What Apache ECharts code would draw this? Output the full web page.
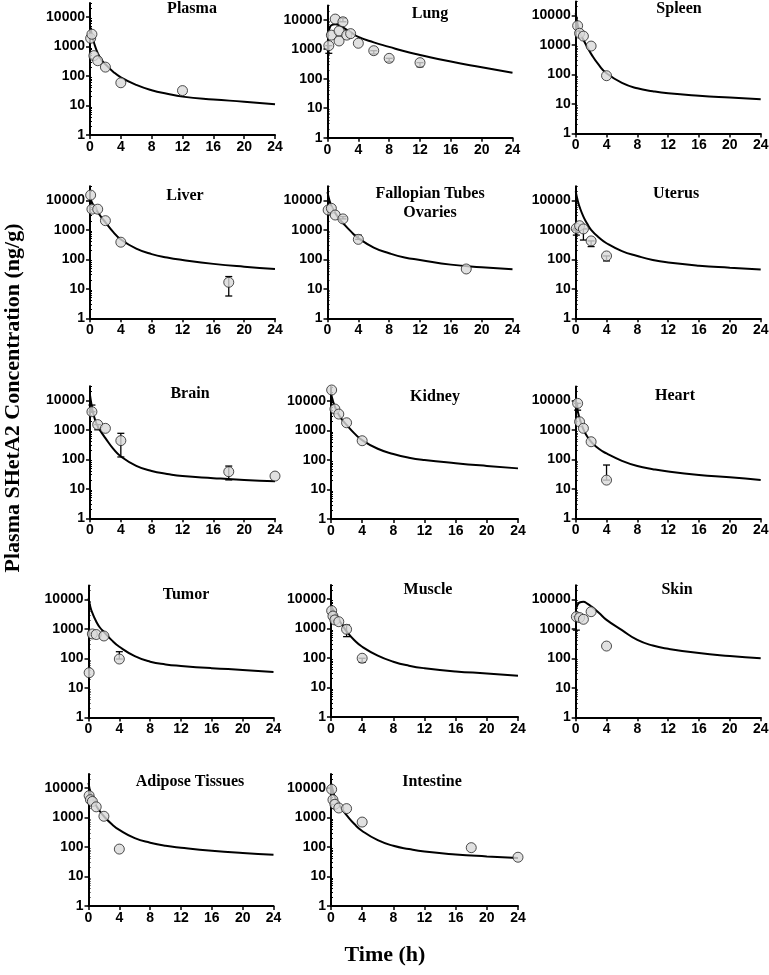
<!DOCTYPE html>
<html><head><meta charset="utf-8">
<script src="https://cdn.jsdelivr.net/npm/echarts@6/dist/echarts.min.js"></script>
<style>html,body{margin:0;padding:0;background:#fff}#c{width:769px;height:975px}</style>
</head><body><div id="c"></div>
<script>
// ---------- DATA ----------
const panelNames = ['Plasma','Lung','Spleen','Liver','Fallopian Tubes\nOvaries','Uterus','Brain','Kidney','Heart','Tumor','Muscle','Skin','Adipose Tissues','Intestine'];
const xTicks = [0,4,8,12,16,20,24];
const yTicks = [1,10,100,1000,10000];
const yMinorTicks = [2,3,4,5,6,7,8,9,20,30,40,50,60,70,80,90,200,300,400,500,600,700,800,900,2000,3000,4000,5000,6000,7000,8000,9000,20000,30000];
const curveTimes = [0,0.25,0.5,1,1.5,2,3,4,6,8,10,12,16,20,24];

const plasmaCurve = [5000,2500,1400,600,350,250,140,90,50,33,25,20,16,13.5,11];
const plasmaT = [0.083,0.25,0.5,1,2,4,12];
const plasmaV = [1900,2600,490,330,200,59,32];
const plasmaErr = [];

const lungCurve = [3000,5000,6500,7000,6500,5500,3800,2600,1700,1200,850,640,380,245,160];
const lungT = [0.17,0.5,1,1.5,1.5,2,2.5,3,4,6,8,12];
const lungV = [1320,3000,10500,1900,4150,8500,3000,3370,1590,890,490,350];
const lungErr = [[0.17,725,1320],[2,8500,11200],[6,690,890],[8,380,490],[12,255,350]];

const spleenCurve = [12000,5000,2800,1500,850,500,210,110,52,34,27,23,19,16.5,14.5];
const spleenT = [0.25,0.5,1,2,4];
const spleenV = [4500,2500,2000,920,91];
const spleenErr = [];

const liverCurve = [12000,8500,6500,4000,2600,1800,850,470,230,150,115,95,70,56,47];
const liverT = [0.083,0.25,1,2,4,18];
const liverV = [15000,5000,5000,2040,380,16.6];
const liverErr = [[18,5.7,26]];

const fallopianCurve = [19000,10000,6500,3700,2400,1700,900,520,250,160,115,95,66,54,46];
const fallopianT = [0.083,0.5,1,2,4,18];
const fallopianV = [4700,5350,3170,2340,475,47];
const fallopianErr = [[4,475,660],[2,2340,2800]];

const uterusCurve = [20000,10000,6000,2800,1600,1000,550,350,190,130,95,78,61,52,45];
const uterusT = [0.083,0.5,1,2,4];
const uterusV = [1120,1380,1070,420,130];
const uterusErr = [[0.083,660,1120],[1,450,1070],[2,270,420],[4,88,130]];

const brainCurve = [15000,6000,3000,1300,800,520,230,125,60,40,32,27,23,20,18];
const brainT = [0.25,1,2,4,18,24];
const brainV = [4100,1500,1120,430,38,27];
const brainErr = [[0.25,4100,6900],[1,1000,1500],[4,120,760],[18,20,59]];

const kidneyCurve = [18000,10000,6500,3400,2200,1550,800,470,240,160,120,100,78,63,52];
const kidneyT = [0.083,0.5,1,2,4];
const kidneyV = [23600,5350,3600,1830,450];
const kidneyErr = [];

const heartCurve = [8000,4500,2500,1050,600,400,230,160,90,60,47,39,30,25,20];
const heartT = [0.25,0.5,1,2,4];
const heartV = [8000,1900,1140,400,20];
const heartErr = [[0.25,4700,8000],[4,20,65]];

const tumorCurve = [11000,5500,3500,1800,1100,800,420,250,120,78,63,56,47,41,35];
const tumorT = [0.083,0.5,1,2,4];
const tumorV = [33,680,650,580,96];
const tumorErr = [[4,96,170]];

const muscleCurve = [5500,4500,3500,2000,1250,800,400,240,120,75,55,45,35,30,25];
const muscleT = [0.083,0.25,0.5,1,2,4];
const muscleV = [4000,2640,1950,1700,940,98];
const muscleErr = [[2,530,1300],[4,71,98]];

const skinCurve = [4500,6500,7800,8200,7200,5800,3500,2000,900,420,270,210,150,120,100];
const skinT = [0.083,0.5,1,2,4];
const skinV = [2570,2400,2100,3800,260];
const skinErr = [[0.083,900,2570]];

const adiposeCurve = [15000,7000,4500,2500,1600,1100,600,380,200,140,110,95,75,63,55];
const adiposeT = [0.083,0.25,0.5,1,2,4];
const adiposeV = [5500,4000,3500,2300,1100,85];
const adiposeErr = [];

const intestineCurve = [15000,8000,5000,2800,1800,1200,600,350,170,110,85,70,56,48,42];
const intestineT = [0.083,0.25,0.5,1,2,4,18,24];
const intestineV = [9000,4000,2800,2100,2000,700,95,45];
const intestineErr = [];

const yTitle = 'Plasma SHetA2 Concentration (ng/g)';
const xTitle = 'Time (h)';

const panels = [
  [plasmaCurve,plasmaT,plasmaV,plasmaErr],
  [lungCurve,lungT,lungV,lungErr],
  [spleenCurve,spleenT,spleenV,spleenErr],
  [liverCurve,liverT,liverV,liverErr],
  [fallopianCurve,fallopianT,fallopianV,fallopianErr],
  [uterusCurve,uterusT,uterusV,uterusErr],
  [brainCurve,brainT,brainV,brainErr],
  [kidneyCurve,kidneyT,kidneyV,kidneyErr],
  [heartCurve,heartT,heartV,heartErr],
  [tumorCurve,tumorT,tumorV,tumorErr],
  [muscleCurve,muscleT,muscleV,muscleErr],
  [skinCurve,skinT,skinV,skinErr],
  [adiposeCurve,adiposeT,adiposeV,adiposeErr],
  [intestineCurve,intestineT,intestineV,intestineErr]
];

// ---------- LAYOUT ----------
const layout = [
  [90,135,185],[327.5,137.7,185],[575.7,133.5,185],
  [90,318.3,185],[327.5,318.3,185],[575.7,318.3,185],
  [90,518.3,185],[331,519,187],[575.7,518.5,185],
  [88.5,717.5,185],[331,717,187],[575.7,717.3,185],
  [88.5,906,185],[331,906,187]
];
const titlePos = [
  [192,2],[430,7],[679,2],
  [185,189],[430,187],[676,187],
  [190,387],[435,390],[675,389],
  [186,588],[428,583],[677,583],
  [190,775],[432,775]
];
const DEC = 29.5;
const H = DEC * Math.log10(30000);

const SANS = '"Liberation Sans", Arial, sans-serif';
const SERIF = '"Liberation Serif", "Times New Roman", serif';

const grids=[], xAxes=[], yAxes=[], series=[], graphics=[];
panels.forEach((p,i)=>{
  const [left,y1,w] = layout[i];
  grids.push({left:left, top:y1-H, width:w, height:H, outerBoundsMode:'none', containLabel:false});
  xAxes.push({type:'value', gridIndex:i, min:0, max:24, interval:4,
    axisLine:{show:true,onZero:false,lineStyle:{color:'#000',width:2}},
    axisTick:{show:true,length:4,lineStyle:{color:'#000',width:1.5}},
    axisLabel:{show:true,margin:5,color:'#000',fontFamily:SANS,fontWeight:'bold',fontSize:14,
      showMinLabel:true,showMaxLabel:true},
    splitLine:{show:false}});
  yAxes.push({type:'log', logBase:10, gridIndex:i, min:1, max:30000,
    axisLine:{show:true,onZero:false,lineStyle:{color:'#000',width:2}},
    axisTick:{show:true,length:4,customValues:yTicks,lineStyle:{color:'#000',width:1.5}},
    axisLabel:{show:true,margin:5,color:'#000',fontFamily:SANS,fontWeight:'bold',fontSize:14,
      customValues:yTicks, formatter:v=>String(Math.round(v))},
    splitLine:{show:false}});
  yAxes.push({type:'log', logBase:10, gridIndex:i, min:1, max:30000,
    axisLine:{show:false},
    axisTick:{show:true,length:2,customValues:yMinorTicks,lineStyle:{color:'#000',width:1}},
    axisLabel:{show:false},
    splitLine:{show:false}});
  const [curve,T,V,E] = p;
  series.push({type:'line', xAxisIndex:i, yAxisIndex:2*i, data:curveTimes.map((t,k)=>[t,curve[k]]),
    smooth:0.5, showSymbol:false, symbol:'none', z:2,
    lineStyle:{color:'#000',width:2}, silent:true, animation:false});
  if (E.length) series.push({type:'custom', xAxisIndex:i, yAxisIndex:2*i, data:E, z:3, animation:false,
    encode:{x:0,y:[1,2]},
    renderItem:(params,api)=>{
      const t=api.value(0), lo=api.value(1), hi=api.value(2);
      const a=api.coord([t,lo]), b=api.coord([t,hi]); const cw=3.5;
      const st={stroke:'#000',lineWidth:1.3};
      return {type:'group',children:[
        {type:'line',shape:{x1:a[0],y1:a[1],x2:b[0],y2:b[1]},style:st},
        {type:'line',shape:{x1:a[0]-cw,y1:a[1],x2:a[0]+cw,y2:a[1]},style:st},
        {type:'line',shape:{x1:b[0]-cw,y1:b[1],x2:b[0]+cw,y2:b[1]},style:st}]};
    }});
  series.push({type:'scatter', xAxisIndex:i, yAxisIndex:2*i, data:T.map((t,k)=>[t,V[k]]),
    symbol:'circle', symbolSize:10, z:4, animation:false,
    itemStyle:{color:'#d9d9d9',borderColor:'#222',borderWidth:1}});
  graphics.push({type:'text', x:titlePos[i][0], y:titlePos[i][1]-3, z:10,
    style:{text:panelNames[i], font:'bold 16px '+SERIF, fill:'#000', textAlign:'center', textVerticalAlign:'top', lineHeight:19}});
});
graphics.push({type:'text', x:13, y:398, rotation:Math.PI/2, z:10,
  style:{text:yTitle, font:'bold 22px '+SERIF, fill:'#000', textAlign:'center', textVerticalAlign:'middle'}});
graphics.push({type:'text', x:385, y:955, z:10,
  style:{text:xTitle, font:'bold 22px '+SERIF, fill:'#000', textAlign:'center', textVerticalAlign:'middle'}});

const chart = echarts.init(document.getElementById('c'), null, {renderer:'canvas'});
chart.setOption({animation:false, backgroundColor:'#fff', grid:grids, xAxis:xAxes, yAxis:yAxes, series:series, graphic:graphics});
</script></body></html>
